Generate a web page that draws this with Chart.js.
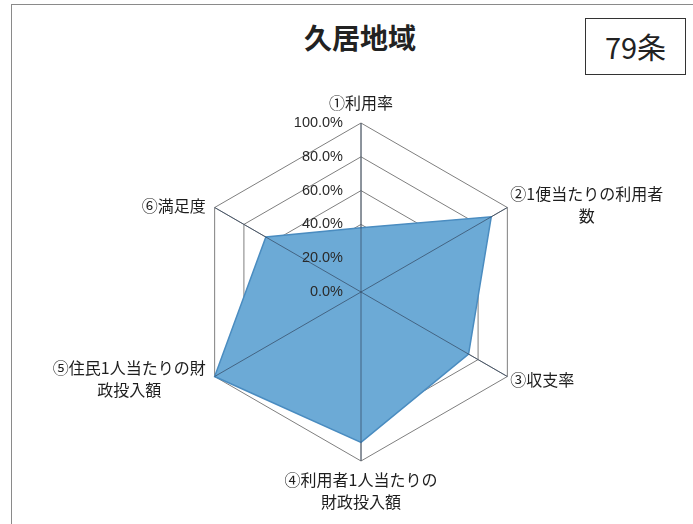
<!DOCTYPE html>
<html>
<head>
<meta charset="utf-8">
<script src="https://cdn.jsdelivr.net/npm/chart.js@4/dist/chart.umd.min.js"></script>
<style>
  body { margin: 0; background: #fff; }
  #wrap { position: relative; width: 693px; height: 524px; overflow: hidden; }
  #frame { position: absolute; left: 11px; top: 4px; width: 700px; height: 540px; border: 1px solid #8a8a8a; }
  #title { position: absolute; left: 0; width: 720px; top: 17px; text-align: center;
           font-family: "Noto Sans CJK JP", sans-serif; font-weight: bold; font-size: 28px; color: #222; }
  #jo { position: absolute; left: 585px; top: 18px; width: 99px; height: 55px; border: 1px solid #333;
        font-family: "Noto Sans CJK JP", sans-serif; font-size: 29px; line-height: 55px; text-align: center; color: #222; }
  canvas { position: absolute; left: 0; top: 0; }
</style>
</head>
<body>
<div id="wrap">
  <div id="frame"></div>
  <div id="title">久居地域</div>
  <div id="jo">79条</div>
  <canvas id="radarChart" width="693" height="524"></canvas>
</div>
<script>
const categories = [
    ['①利用率'],
    ['②1便当たりの利用者', '数'],
    ['③収支率'],
    ['④利用者1人当たりの', '財政投入額'],
    ['⑤住民1人当たりの財', '政投入額'],
    ['⑥満足度']
];
const values = [0.38, 0.89, 0.735, 0.89, 1.0, 0.65];
const tickValues = [0, 0.2, 0.4, 0.6, 0.8, 1.0];
const tickLabels = ['0.0%', '20.0%', '40.0%', '60.0%', '80.0%', '100.0%'];

// where each category label sits relative to its outer vertex
const labelAlign = ['center', 'left', 'left', 'center', 'right', 'right'];
const labelShiftY = [-20, -14, 3, 19, -9, -2];

const ctx = document.getElementById('radarChart').getContext('2d');

const overlay = {
    id: 'overlay',
    afterDatasetsDraw(chart) {
        const scale = chart.scales.r;
        const c = chart.ctx;
        const r = scale.drawingArea;
        c.save();
        // axis lines show through the fill
        c.strokeStyle = 'rgba(50,70,95,0.7)';
        c.lineWidth = 1;
        for (let i = 0; i < categories.length; i++) {
            const p = scale.getPointPosition(i, r);
            c.beginPath();
            c.moveTo(scale.xCenter, scale.yCenter);
            c.lineTo(p.x, p.y);
            c.stroke();
        }
        // tick labels left of the vertical axis
        c.font = '14.5px "Liberation Sans", Arial, sans-serif';
        c.fillStyle = '#2a2a2a';
        c.textAlign = 'right';
        c.textBaseline = 'middle';
        tickValues.forEach((v, i) => {
            const d = scale.getDistanceFromCenterForValue(v);
            c.fillText(tickLabels[i], scale.xCenter - 18, scale.yCenter - d);
        });
        // category labels
        c.font = '16px "Noto Sans CJK JP", sans-serif';
        c.fillStyle = '#1e1e1e';
        c.textAlign = 'center';
        categories.forEach((lines, i) => {
            const p = scale.getPointPosition(i, r);
            const widest = Math.max(...lines.map(t => c.measureText(t).width));
            let cx = p.x;
            if (labelAlign[i] === 'left') cx = p.x + 3 + widest / 2;
            if (labelAlign[i] === 'right') cx = p.x - 9 - widest / 2;
            const cy = p.y + labelShiftY[i];
            lines.forEach((t, j) => c.fillText(t, cx, cy + j * 22));
        });
        c.restore();
    }
};

const radarChart = new Chart(ctx, {
    type: 'radar',
    data: {
        labels: categories,
        datasets: [{
            label: '久居地域',
            data: values,
            backgroundColor: 'rgb(108,170,214)',
            borderColor: '#4a8cc0',
            borderWidth: 1.5,
            pointRadius: 0,
            fill: true
        }]
    },
    options: {
        responsive: false,
        animation: false,
        layout: { padding: { left: 192, right: 163, top: 123, bottom: 63 } },
        plugins: { legend: { display: false }, tooltip: { enabled: false } },
        scales: {
            r: {
                min: 0,
                max: 1,
                ticks: { display: false, stepSize: 0.2 },
                pointLabels: { display: false },
                grid: { color: '#7f7f7f', lineWidth: 1 },
                angleLines: { color: '#7f7f7f', lineWidth: 1 }
            }
        }
    },
    plugins: [overlay]
});
</script>
</body>
</html>
